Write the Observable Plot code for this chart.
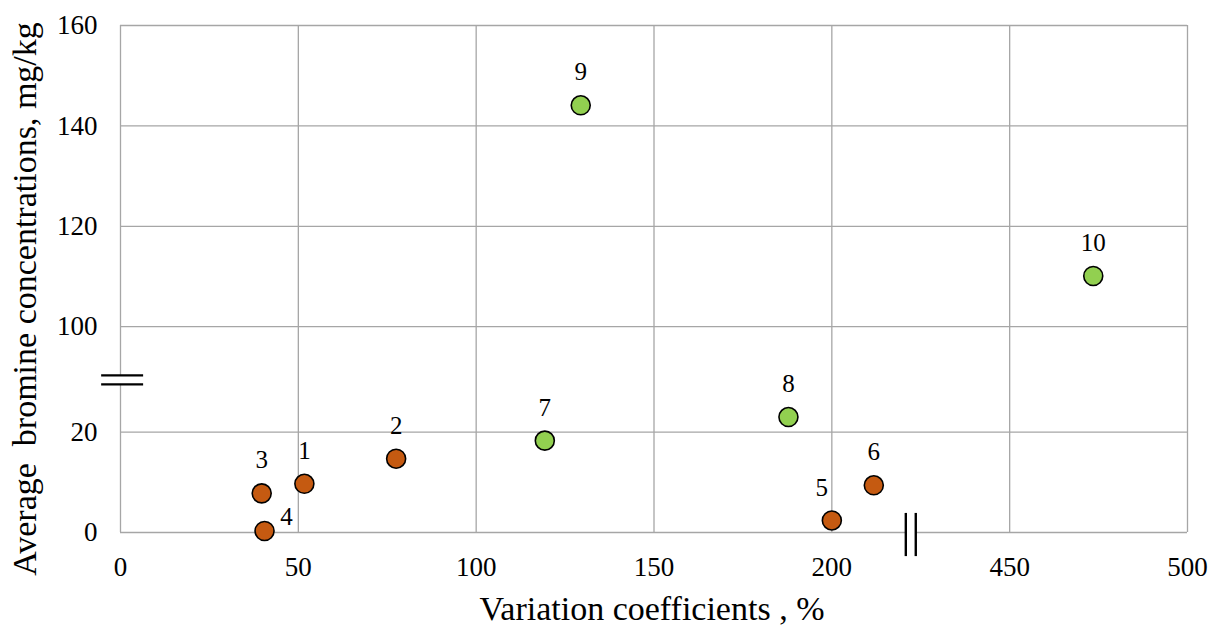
<!DOCTYPE html>
<html>
<head>
<meta charset="utf-8">
<script src="https://cdn.jsdelivr.net/npm/d3@7"></script>
<script src="https://cdn.jsdelivr.net/npm/@observablehq/plot@0.6"></script>
<style>
  html, body { margin: 0; padding: 0; background: #fff; }
  #chart { width: 1209px; height: 625px; }
</style>
</head>
<body>
<div id="chart"></div>
<script>
// ---- data ----
const ids = ["1", "2", "3", "4", "5", "6", "7", "8", "9", "10"];
const variationCoeff = [51.7, 77.5, 39.7, 40.5, 200.0, 211.8, 119.3, 187.8, 129.4, 473.5];
const bromineConc = [9.7, 14.7, 7.8, 0.3, 2.4, 9.4, 18.3, 23.0, 144.1, 110.1];
const groups = ["A", "A", "A", "A", "A", "A", "B", "B", "B", "B"];
const labelSide = ["top", "top", "top", "right", "topleft", "top", "top", "top", "top", "top"];

const xTickValues = [0, 50, 100, 150, 200, 450, 500];
const yTickValues = [0, 20, 100, 120, 140, 160];

const xTitle = "Variation coefficients , %";
const yTitle = "Average  bromine concentrations, mg/kg";

// axis break markers (in axis position space)
const yBreakLines = [29.5, 31.3];
const xBreakLines = [220.8, 223.6];

// ---- broken-axis mapping ----
const xPos = v => (v <= 250 ? v : v - 200);
const yPos = v => (v <= 30 ? v : v - 59);

const data = ids.map((id, i) => ({
  id,
  x: xPos(variationCoeff[i]),
  y: yPos(bromineConc[i]),
  group: groups[i],
  side: labelSide[i]
}));

const xTicks = xTickValues.map(xPos);
const yTicks = yTickValues.map(yPos);
const xLabel = d => String(xTickValues[xTicks.indexOf(d)]);
const yLabel = d => String(yTickValues[yTicks.indexOf(d)]);

const gridColor = "#a6a6a6";

const chart = Plot.plot({
  width: 1209,
  height: 625,
  marginLeft: 120,
  marginRight: 22,
  marginTop: 25,
  marginBottom: 93,
  style: { fontFamily: "'Liberation Serif', 'Times New Roman', serif", color: "black", background: "white", overflow: "visible" },
  x: { domain: [0, 300] },
  y: { domain: [0, 101] },
  color: { domain: ["A", "B"], range: ["#C55A11", "#92D050"] },
  marks: [
    Plot.gridX(xTicks, { stroke: gridColor, strokeOpacity: 1, strokeWidth: 1.3 }),
    Plot.gridY(yTicks, { stroke: gridColor, strokeOpacity: 1, strokeWidth: 1.3 }),
    Plot.axisX({ ticks: xTicks, tickFormat: xLabel, tickSize: 0, tickPadding: 24, fontSize: 27, label: null }),
    Plot.axisY({ ticks: yTicks, tickFormat: yLabel, tickSize: 0, tickPadding: 23, fontSize: 27, label: null }),
    // axis breaks
    Plot.ruleX([0], { y1: yBreakLines[0], y2: yBreakLines[1], stroke: "white", strokeWidth: 4 }),
    Plot.ruleY(yBreakLines, { x1: -5.3, x2: 6.5, stroke: "black", strokeWidth: 2.4 }),
    Plot.ruleY([0], { x1: xBreakLines[0], x2: xBreakLines[1], stroke: "white", strokeWidth: 4 }),
    Plot.ruleX(xBreakLines, { y1: 3.8, y2: -4.8, stroke: "black", strokeWidth: 2.4 }),
    // points
    Plot.dot(data, { x: "x", y: "y", r: 9.5, fill: "group", stroke: "black", strokeWidth: 1.6 }),
    // point labels
    Plot.text(data.filter(d => d.side === "top"), { x: "x", y: "y", text: "id", dy: -33, fontSize: 25 }),
    Plot.text(data.filter(d => d.side === "right"), { x: "x", y: "y", text: "id", dx: 22, dy: -14, fontSize: 25 }),
    Plot.text(data.filter(d => d.side === "topleft"), { x: "x", y: "y", text: "id", dx: -10, dy: -32, fontSize: 25 }),
    // axis titles
    Plot.text([xTitle], { text: d => d, frameAnchor: "bottom", textAnchor: "middle", lineAnchor: "middle", dx: -2, dy: 77, fontSize: 34 }),
    Plot.text([yTitle], { text: d => d, frameAnchor: "left", textAnchor: "middle", lineAnchor: "middle", rotate: -90, dx: -95, dy: 20, fontSize: 34 })
  ]
});

document.getElementById("chart").appendChild(chart);
</script>
</body>
</html>
